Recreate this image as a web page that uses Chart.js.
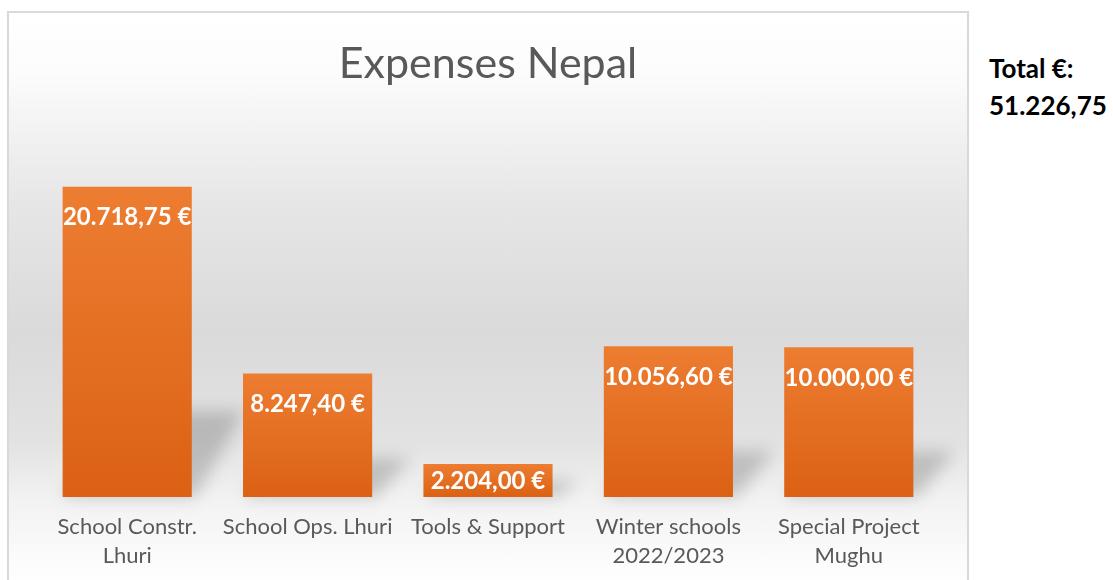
<!DOCTYPE html>
<html>
<head>
<meta charset="utf-8">
<script src="https://cdn.jsdelivr.net/npm/chart.js@4"></script>
<style>
  html, body { margin: 0; padding: 0; background: #fff; overflow: hidden; }
  body { width: 1113px; height: 580px; position: relative; font-family: Lato, sans-serif; }
  #box {
    position: absolute; left: 7px; top: 11px; width: 958px; height: 579px;
    border: 2px solid #d9d9d9;
    background: linear-gradient(to bottom, #ffffff 0%, #fcfcfc 10%, #e6e6e6 33%, #dadada 55%, #e2e2e2 74%, #f2f2f2 84%, #fcfcfc 95%, #ffffff 100%);
  }
  #box canvas { position: absolute; left: 0; top: 0; }
  #total {
    position: absolute; left: 989px; top: 50px;
    font: bold 26px Lato, sans-serif; line-height: 37px; color: #000;
  }
</style>
</head>
<body>
<div id="box"><canvas id="chart" width="958" height="572"></canvas></div>
<div id="total">Total €:<br>51.226,75</div>
<script>
const categories = [['School Constr.', 'Lhuri'], 'School Ops. Lhuri', 'Tools & Support', ['Winter schools', '2022/2023'], ['Special Project', 'Mughu']];
const expenses = [20718.75, 8247.40, 2204.00, 10056.60, 10000.00];
const labelsText = ['20.718,75 €', '8.247,40 €', '2.204,00 €', '10.056,60 €', '10.000,00 €'];

// schatten schräg nach rechts hinter den balken
const shadowPlugin = {
  id: 'barShadow',
  beforeDatasetsDraw(chart) {
    const ctx = chart.ctx;
    const meta = chart.getDatasetMeta(0);
    ctx.save();
    ctx.filter = 'blur(8px)';
    ctx.fillStyle = 'rgba(0,0,0,0.18)';
    meta.data.forEach(bar => {
      const h = bar.base - bar.y;
      const hs = 0.25 * h + 8;
      const dx = Math.min(52, 18 + 0.5 * hs);
      const x0 = bar.x - bar.width / 2;
      const x1 = bar.x + bar.width / 2;
      ctx.beginPath();
      ctx.moveTo(x0, bar.base);
      ctx.lineTo(x1 + 4, bar.base);
      ctx.lineTo(x1 + dx, bar.base - hs);
      ctx.lineTo(x0 + dx, bar.base - hs);
      ctx.closePath();
      ctx.fill();
    });
    ctx.restore();
  }
};

// werte oben im balken
const valueLabels = {
  id: 'valueLabels',
  afterDatasetsDraw(chart) {
    const ctx = chart.ctx;
    const meta = chart.getDatasetMeta(0);
    ctx.save();
    ctx.font = 'bold 24px Lato, sans-serif';
    ctx.fillStyle = '#ffffff';
    ctx.textAlign = 'center';
    ctx.textBaseline = 'middle';
    meta.data.forEach((bar, i) => {
      const h = bar.base - bar.y;
      ctx.fillText(labelsText[i], bar.x, bar.y + Math.min(31, h / 2 + 1));
    });
    ctx.restore();
  }
};

function barGradient(context) {
  const chart = context.chart;
  if (!chart.chartArea) return '#e8722a';
  const y = chart.scales.y;
  const top = y.getPixelForValue(context.raw);
  const bottom = y.getPixelForValue(0);
  const g = chart.ctx.createLinearGradient(0, top, 0, bottom);
  g.addColorStop(0, '#ed7d31');
  g.addColorStop(1, '#db6114');
  return g;
}

new Chart(document.getElementById('chart'), {
  type: 'bar',
  data: {
    labels: categories,
    datasets: [{
      data: expenses,
      backgroundColor: barGradient,
      borderWidth: 0,
      categoryPercentage: 1,
      barPercentage: 0.716
    }]
  },
  options: {
    responsive: false,
    animation: false,
    layout: { padding: { left: 28, right: 28, top: 0, bottom: 0 } },
    plugins: {
      legend: { display: false },
      tooltip: { enabled: false },
      title: {
        display: true,
        text: 'Expenses Nepal',
        color: '#595959',
        font: { family: 'Lato', size: 43, weight: 'normal', lineHeight: 1.2 },
        padding: { top: 25, bottom: 33 }
      }
    },
    scales: {
      x: {
        grid: { display: false, drawTicks: false },
        border: { display: false },
        ticks: {
          color: '#595959',
          padding: 15,
          maxRotation: 0,
          autoSkip: false,
          font: { family: 'Lato', size: 22, lineHeight: 1.32 }
        }
      },
      y: {
        display: false,
        min: 0,
        max: 25000
      }
    }
  },
  plugins: [shadowPlugin, valueLabels]
});
</script>
</body>
</html>
